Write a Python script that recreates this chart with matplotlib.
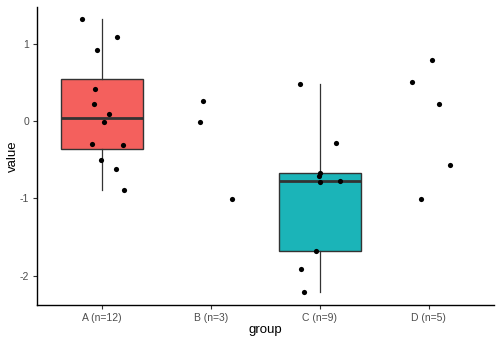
import matplotlib
matplotlib.use("Agg")
import matplotlib.pyplot as plt
import numpy as np

plt.rcParams['font.family'] = ['Liberation Sans', 'DejaVu Sans']

categories = ["A (n=12)", "B (n=3)", "C (n=9)", "D (n=5)"]

values_A = [1.312, 1.084, 0.92, 0.413, 0.219, 0.094, -0.013, -0.301, -0.314, -0.499, -0.619, -0.886]
jitter_A = [-0.186, 0.131, -0.052, -0.067, -0.073, 0.058, 0.012, -0.098, 0.19, -0.009, 0.128, 0.199]
values_B = [0.254, -0.017, -1.01]
jitter_B = [-0.071, -0.098, 0.193]
values_C = [0.481, -0.288, -0.675, -0.705, -0.791, -0.774, -1.682, -1.91, -2.21]
jitter_C = [-0.181, 0.144, 0.0, -0.006, 0.003, 0.186, -0.039, -0.177, -0.147]
values_D = [0.507, 0.783, 0.219, -0.572, -1.006]
jitter_D = [-0.153, 0.03, 0.098, 0.199, -0.071]

all_values = [values_A, values_B, values_C, values_D]
all_jitter = [jitter_A, jitter_B, jitter_C, jitter_D]
box_groups = [0, 2]
box_colors = {0: "#F4605D", 2: "#1BB4B8"}

fig = plt.figure(figsize=(5.0, 3.43), dpi=100)
ax = fig.add_axes([0.074, 0.111, 0.914, 0.869])

for i in box_groups:
    bp = ax.boxplot([all_values[i]], positions=[i], widths=0.75, whis=1.5,
                    patch_artist=True, showfliers=False, showcaps=False,
                    medianprops=dict(color="#333333", linewidth=2.0),
                    whiskerprops=dict(color="#333333", linewidth=0.9),
                    boxprops=dict(edgecolor="#333333", linewidth=1.0),
                    zorder=2)
    for b in bp['boxes']:
        b.set_facecolor(box_colors[i])

for i, (vals, jit) in enumerate(zip(all_values, all_jitter)):
    xs = np.array(jit) + i
    ax.scatter(xs, vals, s=14, color="black", zorder=3, linewidths=0)

ax.set_xlim(-0.6, 3.6)
ax.set_ylim(-2.375, 1.475)
ax.set_xticks(range(4))
ax.set_xticklabels(categories)
ax.set_yticks([-2, -1, 0, 1])
ax.set_yticklabels(["-2", "-1", "0", "1"])
ax.set_xlabel("group", fontsize=9.5, color="black", labelpad=1)
ax.set_ylabel("value", fontsize=9.5, color="black", labelpad=1)
ax.tick_params(axis='both', labelsize=7.5, colors="#333333", length=3, width=0.8,
               labelcolor="#4D4D4D", pad=2.5)
for side in ["top", "right"]:
    ax.spines[side].set_visible(False)
for side in ["left", "bottom"]:
    ax.spines[side].set_linewidth(1.0)
    ax.spines[side].set_color("black")

fig.savefig("out.png", dpi=100)
